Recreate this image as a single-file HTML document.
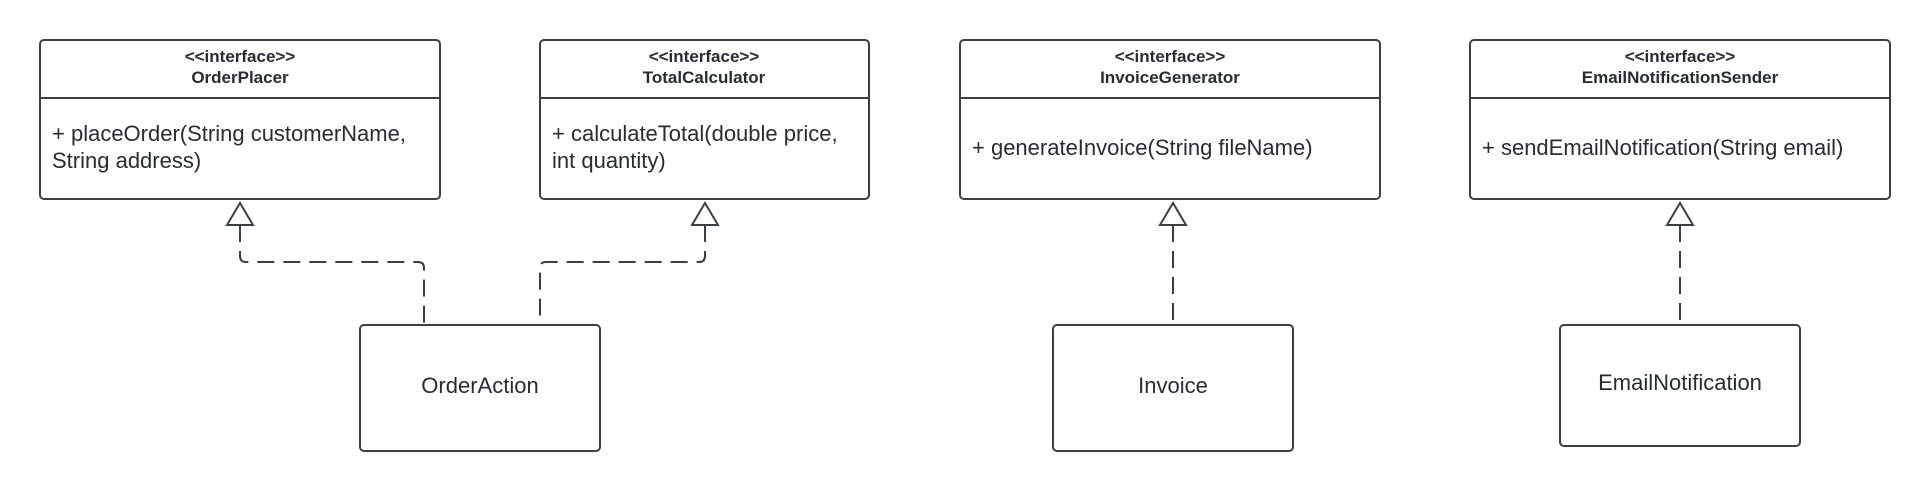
<!DOCTYPE html>
<html><head><meta charset="utf-8"><style>
html,body{margin:0;padding:0;background:#fff;}
svg text{font-family:"Liberation Sans",Arial,sans-serif;fill:#282c33;}
</style></head><body>
<svg width="1930" height="491" viewBox="0 0 1930 491" xmlns="http://www.w3.org/2000/svg">
<g fill="#fff" stroke="#3a3f47" stroke-width="2">
<rect x="40" y="40" width="400" height="159" rx="4"/>
<line x1="40" y1="98" x2="440" y2="98"/>
<rect x="540" y="40" width="329" height="159" rx="4"/>
<line x1="540" y1="98" x2="869" y2="98"/>
<rect x="960" y="40" width="420" height="159" rx="4"/>
<line x1="960" y1="98" x2="1380" y2="98"/>
<rect x="1470" y="40" width="420" height="159" rx="4"/>
<line x1="1470" y1="98" x2="1890" y2="98"/>
<rect x="360" y="325" width="240" height="126" rx="4"/>
<rect x="1053" y="325" width="240" height="126" rx="4"/>
<rect x="1560" y="325" width="240" height="121" rx="4"/>
</g>
<g fill="none" stroke="#3a3f47" stroke-width="2" stroke-dasharray="17,9">
<path d="M240 225 V256 Q240 262 246 262 H418 Q424 262 424 268 V325"/>
<path d="M705 225 V256 Q705 262 699 262 H546 Q540 262 540 268 V325"/>
<path d="M1173 225 V325"/>
<path d="M1680 225 V325"/>
</g>
<g fill="#fff" stroke="#3a3f47" stroke-width="2">
<path d="M240 203 L227 225 H253 Z"/>
<path d="M705 203 L692 225 H718 Z"/>
<path d="M1173 203 L1160 225 H1186 Z"/>
<path d="M1680 203 L1667 225 H1693 Z"/>
</g>
<g font-size="17" font-weight="bold" text-anchor="middle">
<text x="240" y="62">&lt;&lt;interface&gt;&gt;</text><text x="240" y="83">OrderPlacer</text>
<text x="704" y="62">&lt;&lt;interface&gt;&gt;</text><text x="704" y="83">TotalCalculator</text>
<text x="1170" y="62">&lt;&lt;interface&gt;&gt;</text><text x="1170" y="83">InvoiceGenerator</text>
<text x="1680" y="62">&lt;&lt;interface&gt;&gt;</text><text x="1680" y="83">EmailNotificationSender</text>
</g>
<g font-size="22">
<text x="52" y="141">+ placeOrder(String customerName,</text>
<text x="52" y="168">String address)</text>
<text x="552" y="141">+ calculateTotal(double price,</text>
<text x="552" y="168">int quantity)</text>
<text x="972" y="155">+ generateInvoice(String fileName)</text>
<text x="1482" y="155">+ sendEmailNotification(String email)</text>
</g>
<g font-size="22" text-anchor="middle">
<text x="480" y="393">OrderAction</text>
<text x="1173" y="393">Invoice</text>
<text x="1680" y="390">EmailNotification</text>
</g>
</svg>
</body></html>
